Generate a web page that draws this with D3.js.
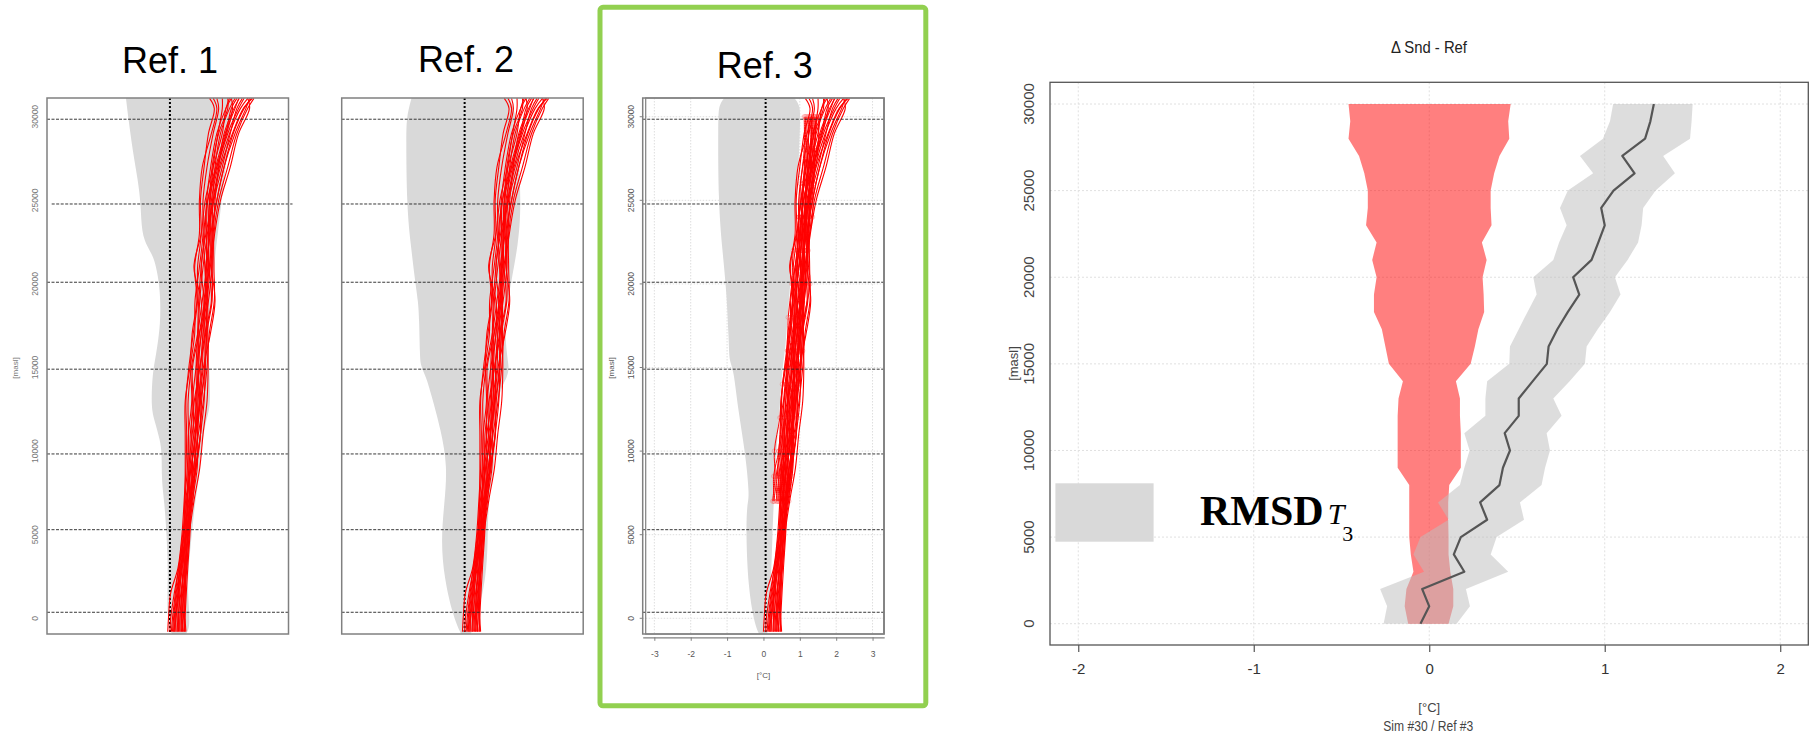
<!DOCTYPE html>
<html>
<head>
<meta charset="utf-8">
<script src="https://cdn.jsdelivr.net/npm/d3@7"></script>
<style>
  body { margin: 0; background: #fff; }
  svg { display: block; font-family: "Liberation Sans", Arial, sans-serif; }
</style>
</head>
<body>
<div id="chart"></div>
<script>
"use strict";

// ---------------- data ----------------
var panelTitles = ["Ref. 1", "Ref. 2", "Ref. 3"];

// simulated profiles, [°C] at each height [masl]
var profileLevels = [-800, 0, 1500, 3000, 5000, 7000, 9000, 11000, 13000, 15000, 17000, 19000, 21000, 23000, 25000, 27000, 29000, 30500, 31100];
var profiles = [
    [0.00, 0.02, 0.08, 0.28, 0.39, 0.45, 0.50, 0.52, 0.50, 0.58, 0.70, 0.82, 0.82, 0.92, 0.90, 1.00, 1.12, 1.28, 1.15],
    [0.10, 0.13, 0.21, 0.30, 0.44, 0.49, 0.64, 0.77, 0.90, 0.91, 0.97, 1.12, 1.22, 1.22, 1.25, 1.42, 1.70, 2.00, 2.20],
    [0.16, 0.18, 0.25, 0.35, 0.49, 0.62, 0.68, 0.66, 0.68, 0.78, 0.92, 0.92, 0.72, 0.92, 1.03, 1.25, 1.50, 1.60, 1.70],
    [0.23, 0.23, 0.31, 0.40, 0.52, 0.65, 0.78, 0.90, 1.00, 1.03, 1.07, 1.05, 1.04, 1.17, 1.20, 1.38, 1.65, 1.95, 2.10],
    [0.28, 0.30, 0.33, 0.37, 0.44, 0.47, 0.54, 0.57, 0.56, 0.65, 0.82, 0.95, 1.07, 1.15, 1.17, 1.25, 1.38, 1.50, 1.50],
    [0.33, 0.33, 0.39, 0.45, 0.57, 0.62, 0.66, 0.76, 0.88, 0.98, 1.17, 1.30, 1.20, 1.19, 1.35, 1.55, 1.80, 2.10, 2.30],
    [0.38, 0.36, 0.38, 0.42, 0.47, 0.52, 0.64, 0.77, 0.80, 0.78, 0.82, 0.85, 0.92, 1.02, 1.07, 1.18, 1.35, 1.60, 1.75],
    [0.43, 0.40, 0.43, 0.48, 0.54, 0.67, 0.81, 0.82, 0.83, 0.95, 0.97, 1.00, 1.10, 1.12, 1.27, 1.50, 1.72, 1.90, 2.05],
    [0.48, 0.46, 0.48, 0.52, 0.59, 0.72, 0.88, 0.97, 1.08, 1.11, 1.10, 1.10, 1.07, 1.07, 1.10, 1.32, 1.58, 1.85, 1.95],
    [0.50, 0.48, 0.51, 0.55, 0.61, 0.65, 0.71, 0.84, 0.98, 1.08, 1.14, 1.28, 1.27, 1.27, 1.40, 1.65, 1.90, 2.20, 2.37],
    [0.13, 0.16, 0.23, 0.34, 0.43, 0.47, 0.48, 0.48, 0.48, 0.61, 0.74, 0.75, 0.87, 0.97, 0.97, 1.08, 1.25, 1.40, 1.35],
    [0.20, 0.22, 0.28, 0.37, 0.49, 0.54, 0.58, 0.67, 0.80, 0.83, 0.87, 1.02, 1.12, 1.12, 1.15, 1.35, 1.60, 1.75, 1.90],
    [0.30, 0.28, 0.29, 0.32, 0.45, 0.57, 0.71, 0.82, 0.86, 0.83, 0.84, 0.88, 0.97, 1.09, 1.23, 1.30, 1.45, 1.70, 1.85],
    [0.36, 0.38, 0.45, 0.50, 0.55, 0.59, 0.61, 0.62, 0.73, 0.88, 1.04, 1.08, 1.02, 0.99, 1.10, 1.35, 1.62, 1.78, 1.75],
    [0.40, 0.43, 0.45, 0.46, 0.49, 0.59, 0.74, 0.72, 0.70, 0.68, 0.87, 1.05, 1.14, 1.25, 1.30, 1.40, 1.55, 1.82, 1.97],
    [0.18, 0.20, 0.28, 0.38, 0.51, 0.62, 0.76, 0.77, 0.76, 0.88, 1.02, 1.20, 1.14, 1.12, 1.15, 1.22, 1.40, 1.65, 1.65],
    [0.46, 0.46, 0.48, 0.50, 0.55, 0.69, 0.76, 0.90, 0.93, 1.03, 1.07, 1.22, 1.22, 1.22, 1.35, 1.55, 1.85, 2.15, 2.25],
    [0.06, 0.08, 0.18, 0.30, 0.41, 0.52, 0.56, 0.57, 0.66, 0.63, 0.67, 0.80, 0.74, 0.87, 0.87, 0.95, 1.20, 1.35, 1.25],
    [0.26, 0.28, 0.36, 0.45, 0.51, 0.55, 0.61, 0.72, 0.90, 1.01, 1.02, 1.00, 0.92, 1.05, 1.25, 1.45, 1.78, 2.08, 2.33],
    [0.42, 0.38, 0.41, 0.52, 0.59, 0.62, 0.78, 0.90, 0.88, 0.85, 0.92, 1.08, 1.17, 1.29, 1.45, 1.72, 1.95, 2.25, 2.20]
];

// extra profiles only shown in Ref. 3 (with markers)
var extraLevels = [7000, 8500, 10000, 12000, 14000, 16000, 18000, 20000, 22000, 24000, 26000, 28000, 30000];
var extraProfiles = [
    [0.25, 0.32, 0.30, 0.45, 0.52, 0.66, 0.68, 0.78, 0.82, 0.98, 1.02, 1.12, 1.12],
    [0.30, 0.28, 0.42, 0.48, 0.62, 0.66, 0.80, 0.80, 0.94, 0.98, 1.10, 1.14, 1.18],
    [0.35, 0.42, 0.44, 0.58, 0.64, 0.78, 0.78, 0.92, 0.93, 1.05, 1.10, 1.22, 1.22],
    [0.40, 0.44, 0.55, 0.58, 0.74, 0.78, 0.90, 0.93, 1.03, 1.05, 1.18, 1.22, 1.28],
    [0.45, 0.52, 0.56, 0.70, 0.75, 0.88, 0.90, 1.03, 1.02, 1.15, 1.18, 1.32, 1.32],
    [0.50, 0.53, 0.65, 0.70, 0.85, 0.87, 1.00, 1.02, 1.13, 1.15, 1.28, 1.30, 1.38],
    [0.55, 0.62, 0.68, 0.80, 0.85, 0.98, 1.00, 1.15, 1.12, 1.25, 1.27, 1.40, 1.42],
    [0.62, 0.66, 0.78, 0.82, 0.95, 0.97, 1.10, 1.15, 1.23, 1.25, 1.38, 1.40, 1.48],
    [0.70, 0.78, 0.80, 0.93, 0.95, 1.08, 1.12, 1.28, 1.20, 1.35, 1.37, 1.50, 1.52],
    [0.38, 0.35, 0.48, 0.58, 0.65, 0.72, 0.85, 0.88, 0.98, 1.05, 1.10, 1.22, 1.25],
    [0.48, 0.42, 0.55, 0.62, 0.75, 0.82, 0.90, 0.98, 1.08, 1.15, 1.18, 1.28, 1.35],
    [0.58, 0.52, 0.65, 0.75, 0.80, 0.92, 0.95, 1.08, 1.12, 1.20, 1.28, 1.35, 1.40],
    [0.28, 0.38, 0.42, 0.52, 0.62, 0.68, 0.75, 0.85, 0.92, 0.98, 1.08, 1.18, 1.15],
    [0.65, 0.72, 0.78, 0.80, 0.90, 0.98, 1.05, 1.15, 1.18, 1.25, 1.32, 1.40, 1.45],
    [0.42, 0.48, 0.60, 0.65, 0.70, 0.78, 0.88, 0.92, 1.02, 1.10, 1.22, 1.30, 1.30]
];

// reference envelopes: [height, low °C, high °C]
var envRef1 = [
    [31120, -1.15, 1.80], [29860, -1.08, 1.75], [28050, -0.97, 1.65], [26210, -0.82, 1.55],
    [24780, -0.74, 1.47], [23050, -0.72, 1.38], [22210, -0.56, 1.33], [21610, -0.39, 1.30],
    [20830, -0.30, 1.28], [19640, -0.21, 1.22], [17660, -0.19, 1.12], [15630, -0.33, 1.12],
    [14670, -0.42, 1.15], [12640, -0.46, 1.18], [11860, -0.37, 1.05], [10670, -0.21, 0.96],
    [9830, -0.16, 0.92], [8270, -0.17, 0.85], [7080, -0.10, 0.76], [5100, -0.03, 0.66],
    [2470, 0.01, 0.55], [1270, -0.02, 0.56], [-520, 0.01, 0.62], [-940, 0.12, 0.50]
];
var envRef2 = [
    [31120, -1.40, 1.30], [30030, -1.53, 1.48], [28970, -1.55, 1.53], [24540, -1.53, 1.62],
    [22330, -1.42, 1.53], [20120, -1.30, 1.34], [18980, -1.22, 1.25], [17910, -1.19, 1.15],
    [15700, -1.17, 1.22], [15100, -1.15, 1.28], [14440, -1.00, 1.25], [13480, -0.87, 0.97],
    [11260, -0.59, 0.93], [9050, -0.41, 0.88], [6840, -0.50, 0.70], [4620, -0.59, 0.70],
    [2410, -0.50, 0.65], [200, -0.27, 0.42], [-940, -0.04, 0.23]
];
var envRef3 = [
    [31120, -1.08, 0.85], [30700, -1.22, 1.00], [29910, -1.25, 1.02], [24790, -1.24, 0.92],
    [22000, -1.13, 0.82], [19710, -1.02, 0.72], [16500, -0.95, 0.62], [15340, -0.94, 0.55],
    [14900, -0.82, 0.52], [12640, -0.71, 0.45], [9950, -0.50, 0.35], [7240, -0.38, 0.30],
    [6900, -0.45, 0.28], [5080, -0.48, 0.25], [1850, -0.42, 0.20], [-310, -0.25, 0.15],
    [-940, -0.12, 0.10]
];
var refEnvelopes = [envRef1, envRef2, envRef3];

// heights of the dashed reference levels
var levelHeights = [29850, 24780, 20100, 14900, 9830, 5300, 360];
var smallYTicks = [0, 5000, 10000, 15000, 20000, 25000, 30000];
var smallXTicks = [-3, -2, -1, 0, 1, 2, 3];

// Δ Snd - Ref panel
var diffLevels = [0, 1000, 2000, 3000, 4000, 5000, 6000, 7000, 8000, 9000, 10000, 11000, 12000, 13000, 14000, 15000,
    16000, 17000, 18000, 19000, 20000, 21000, 22000, 23000, 24000, 25000, 26000, 27000, 28000, 29000, 30000];
var ref3Lo = [-0.12, -0.14, -0.13, -0.09, -0.105, -0.114, -0.114, -0.114, -0.114, -0.18, -0.18, -0.18, -0.18, -0.175, -0.15, -0.23,
    -0.25, -0.27, -0.315, -0.315, -0.30, -0.325, -0.30, -0.36, -0.35, -0.35, -0.37, -0.40, -0.46, -0.45, -0.46];
var ref3Hi = [0.11, 0.137, 0.137, 0.12, 0.11, 0.11, 0.108, 0.108, 0.114, 0.18, 0.18, 0.18, 0.175, 0.175, 0.152, 0.236,
    0.26, 0.28, 0.313, 0.31, 0.304, 0.327, 0.30, 0.355, 0.35, 0.35, 0.37, 0.40, 0.456, 0.45, 0.464];
var meanDiff = [-0.05, 0.00, -0.04, 0.20, 0.14, 0.18, 0.33, 0.29, 0.40, 0.42, 0.46, 0.43, 0.51, 0.51, 0.59, 0.67,
    0.68, 0.73, 0.79, 0.855, 0.82, 0.925, 0.963, 1.00, 0.98, 1.05, 1.17, 1.10, 1.23, 1.26, 1.28];
var rmsdLo = [-0.26, -0.24, -0.28, -0.03, -0.09, -0.05, 0.11, 0.05, 0.175, 0.20, 0.23, 0.20, 0.32, 0.32, 0.33, 0.456,
    0.46, 0.51, 0.56, 0.612, 0.593, 0.707, 0.74, 0.783, 0.745, 0.79, 0.934, 0.859, 0.99, 1.03, 1.048];
var rmsdHi = [0.156, 0.232, 0.209, 0.45, 0.35, 0.384, 0.54, 0.517, 0.64, 0.66, 0.688, 0.669, 0.754, 0.707, 0.80, 0.887,
    0.897, 0.96, 1.03, 1.09, 1.058, 1.13, 1.19, 1.21, 1.219, 1.29, 1.40, 1.333, 1.486, 1.495, 1.501];
var diffXTicks = [-2, -1, 0, 1, 2];
var diffYTicks = [0, 5000, 10000, 15000, 20000, 25000, 30000];

// ---------------- drawing ----------------
var width = 1815, height = 735;

//R prints plain hyphen minus and no decimals
var tickFmt = function(d) { return d < 0 ? "-" + Math.abs(d) : String(d); };

var svg = d3.select("#chart").append("svg")
    .attr("width", width)
    .attr("height", height);

var panelLeft = [47, 341.7, 642.7];
var panelTitleX = [170, 466, 764.7];
var panelTitleY = [73.3, 71.7, 78.3];

//green frame round Ref. 3
svg.append("rect")
    .attr("x", 600).attr("y", 7.3)
    .attr("width", 325.8).attr("height", 698.5)
    .attr("rx", 3)
    .attr("fill", "none")
    .attr("stroke", "#92d050")
    .attr("stroke-width", 5);

function drawPanel(idx) {
    var left = panelLeft[idx], right = left + 241.5, top = 98, bottom = 634;
    var x = d3.scaleLinear().domain([-3.32, 3.32]).range([left, right]);
    var y = d3.scaleLinear().domain([-940, 31120]).range([bottom, top]);
    var isRef3 = (idx === 2);

    var g = svg.append("g").attr("class", "panel");

    svg.append("clipPath").attr("id", "clip" + idx)
        .append("rect")
        .attr("x", left).attr("y", top)
        .attr("width", right - left).attr("height", bottom - top);

    var inner = g.append("g").attr("clip-path", "url(#clip" + idx + ")");

    //light grid only on Ref. 3
    if (isRef3) {
        inner.selectAll(".gx").data(smallXTicks).enter().append("line")
            .attr("x1", function(d) { return x(d); })
            .attr("x2", function(d) { return x(d); })
            .attr("y1", top).attr("y2", bottom)
            .attr("stroke", "#dedede").attr("stroke-dasharray", "1.5,1.5");
        inner.selectAll(".gy").data(smallYTicks).enter().append("line")
            .attr("x1", left).attr("x2", right)
            .attr("y1", function(d) { return y(d); })
            .attr("y2", function(d) { return y(d); })
            .attr("stroke", "#dedede").attr("stroke-dasharray", "1.5,1.5");
    }

    //grey reference envelope
    inner.append("path")
        .datum(refEnvelopes[idx])
        .attr("fill", "#d9d9d9")
        .attr("d", d3.area()
            .curve(d3.curveBasis)
            .y(function(d) { return y(d[0]); })
            .x0(function(d) { return x(d[1]); })
            .x1(function(d) { return x(d[2]); }));

    //dashed level lines
    g.selectAll(".lvl").data(levelHeights).enter().append("line")
        .attr("x1", function(d) { return (idx === 0 && d === 24780) ? left + 4.7 : left; })
        .attr("x2", function(d) { return (idx === 0 && d === 24780) ? right + 4 : right; })
        .attr("y1", function(d) { return y(d); })
        .attr("y2", function(d) { return y(d); })
        .attr("stroke", "#222")
        .attr("stroke-width", 0.9)
        .attr("stroke-dasharray", "3,1.5");

    //zero line
    inner.append("line")
        .attr("x1", x(0.06)).attr("x2", x(0.06))
        .attr("y1", top).attr("y2", bottom)
        .attr("stroke", "#000")
        .attr("stroke-width", 2)
        .attr("stroke-dasharray", "2,2");

    var line = d3.line()
        .curve(d3.curveCatmullRom)
        .x(function(d) { return x(d[1]); })
        .y(function(d) { return y(d[0]); });

    //extra runs with markers (Ref. 3 only)
    if (isRef3) {
        extraProfiles.forEach(function(p) {
            var pts = p.map(function(v, i) { return [extraLevels[i], v]; });
            inner.append("path").datum(pts)
                .attr("d", line)
                .attr("fill", "none")
                .attr("stroke", "#ff0000")
                .attr("stroke-width", 1);
            inner.selectAll(null).data(pts).enter().append("circle")
                .attr("cx", function(d) { return x(d[1]); })
                .attr("cy", function(d) { return y(d[0]); })
                .attr("r", 2.2)
                .attr("fill", "none")
                .attr("stroke", "rgba(255,60,60,0.35)")
                .attr("stroke-width", 0.8);
        });
    }

    //simulated profiles
    profiles.forEach(function(p) {
        var pts = p.map(function(v, i) { return [profileLevels[i], v]; });
        inner.append("path").datum(pts)
            .attr("d", line)
            .attr("fill", "none")
            .attr("stroke", "#ff0000")
            .attr("stroke-width", 1.1);
    });

    //box
    g.append("rect")
        .attr("x", left).attr("y", top)
        .attr("width", right - left).attr("height", bottom - top)
        .attr("fill", "none")
        .attr("stroke", "#808080")
        .attr("stroke-width", 1.5);
    if (isRef3) {
        g.append("rect")
            .attr("x", left + 3).attr("y", top)
            .attr("width", right - left - 3.5).attr("height", bottom - top)
            .attr("fill", "none")
            .attr("stroke", "#808080")
            .attr("stroke-width", 1.2);
    }

    //y labels (Ref. 1 and Ref. 3)
    if (idx !== 1) {
        g.selectAll(".yl").data(smallYTicks).enter().append("text")
            .attr("transform", function(d) { return "translate(" + (left - 12) + "," + y(d) + ") rotate(-90)"; })
            .attr("text-anchor", "middle")
            .attr("dy", "0.35em")
            .attr("font-size", 8.5)
            .attr("fill", isRef3 ? "#555" : "#777")
            .text(function(d) { return d; });
        g.append("text")
            .attr("transform", "translate(" + (left - 32) + ",368) rotate(-90)")
            .attr("text-anchor", "middle")
            .attr("dy", "0.35em")
            .attr("font-size", 8)
            .attr("fill", isRef3 ? "#555" : "#777")
            .text("[masl]");
    }

    if (isRef3) {
        //y ticks
        g.selectAll(".yt").data(smallYTicks).enter().append("line")
            .attr("x1", left - 3).attr("x2", left)
            .attr("y1", function(d) { return y(d); })
            .attr("y2", function(d) { return y(d); })
            .attr("stroke", "#808080");

        //x axis
        var xAxis = g.append("g")
            .attr("transform", "translate(0," + (bottom + 3.3) + ")")
            .call(d3.axisBottom(x).tickValues(smallXTicks).tickFormat(tickFmt)
                .tickSize(3.5).tickPadding(10).tickSizeOuter(0));
        xAxis.select(".domain").attr("stroke", "#808080").attr("stroke-width", 1.3);
        xAxis.selectAll(".tick line").attr("stroke", "#808080");
        xAxis.selectAll(".tick text")
            .attr("font-family", "Liberation Sans, Arial, sans-serif")
            .attr("font-size", 8.5)
            .attr("fill", "#555");

        g.append("text")
            .attr("x", x(0)).attr("y", 677.5)
            .attr("text-anchor", "middle")
            .attr("font-size", 8)
            .attr("fill", "#555")
            .text("[°C]");
    }

    //panel title
    g.append("text")
        .attr("x", panelTitleX[idx]).attr("y", panelTitleY[idx])
        .attr("text-anchor", "middle")
        .attr("font-size", 36)
        .attr("fill", "#000")
        .text(panelTitles[idx]);
}

[0, 1, 2].forEach(drawPanel);

// ---------------- Δ Snd - Ref ----------------
(function() {
    var left = 1050, right = 1808.3, top = 82.3, bottom = 645;
    var x = d3.scaleLinear().domain([-2.161, 2.16]).range([left, right]);
    var y = d3.scaleLinear().domain([-1230, 31253]).range([bottom, top]);
    var g = svg.append("g").attr("class", "diff");

    //grid
    g.selectAll(".gx").data(diffXTicks).enter().append("line")
        .attr("x1", function(d) { return x(d); })
        .attr("x2", function(d) { return x(d); })
        .attr("y1", top).attr("y2", bottom)
        .attr("stroke", "#e0e0e0").attr("stroke-dasharray", "2,2");
    g.selectAll(".gy").data(diffYTicks).enter().append("line")
        .attr("x1", left).attr("x2", right)
        .attr("y1", function(d) { return y(d); })
        .attr("y2", function(d) { return y(d); })
        .attr("stroke", "#e0e0e0").attr("stroke-dasharray", "2,2");

    var rows = diffLevels.map(function(h, i) {
        return { h: h, lo: ref3Lo[i], hi: ref3Hi[i], m: meanDiff[i], rlo: rmsdLo[i], rhi: rmsdHi[i] };
    });

    //reference spread (red)
    g.append("path").datum(rows)
        .attr("fill", "rgba(255,0,0,0.5)")
        .attr("d", d3.area()
            .y(function(d) { return y(d.h); })
            .x0(function(d) { return x(d.lo); })
            .x1(function(d) { return x(d.hi); }));

    //RMSD band (grey)
    g.append("path").datum(rows)
        .attr("fill", "rgba(190,190,190,0.52)")
        .attr("d", d3.area()
            .y(function(d) { return y(d.h); })
            .x0(function(d) { return x(d.rlo); })
            .x1(function(d) { return x(d.rhi); }));

    //mean difference line
    g.append("path").datum(rows)
        .attr("fill", "none")
        .attr("stroke", "#555")
        .attr("stroke-width", 2.2)
        .attr("stroke-linejoin", "round")
        .attr("d", d3.line()
            .x(function(d) { return x(d.m); })
            .y(function(d) { return y(d.h); }));

    //box
    g.append("rect")
        .attr("x", left).attr("y", top)
        .attr("width", right - left).attr("height", bottom - top)
        .attr("fill", "none")
        .attr("stroke", "#555")
        .attr("stroke-width", 1.3);

    //x axis
    var xAxis = g.append("g")
        .attr("transform", "translate(0," + bottom + ")")
        .call(d3.axisBottom(x).tickValues(diffXTicks).tickFormat(tickFmt)
            .tickSize(7).tickPadding(11).tickSizeOuter(0));
    xAxis.select(".domain").remove();
    xAxis.selectAll(".tick line").attr("stroke", "#555").attr("stroke-width", 1.2);
    xAxis.selectAll(".tick text")
        .attr("font-family", "Liberation Sans, Arial, sans-serif")
        .attr("font-size", 15)
        .attr("fill", "#333");

    //y labels
    g.selectAll(".yl").data(diffYTicks).enter().append("text")
        .attr("transform", function(d) { return "translate(1028.3," + y(d) + ") rotate(-90)"; })
        .attr("text-anchor", "middle")
        .attr("dy", "0.35em")
        .attr("font-size", 15)
        .attr("fill", "#444")
        .text(function(d) { return d; });

    g.append("text")
        .attr("transform", "translate(1013,363.5) rotate(-90)")
        .attr("text-anchor", "middle")
        .attr("dy", "0.35em")
        .attr("font-size", 13)
        .attr("fill", "#444")
        .text("[masl]");

    //title and x titles
    g.append("text")
        .attr("x", 1429).attr("y", 53.3)
        .attr("text-anchor", "middle")
        .attr("font-size", 17)
        .attr("textLength", 76)
        .attr("lengthAdjust", "spacingAndGlyphs")
        .attr("fill", "#222")
        .text("Δ Snd - Ref");

    g.append("text")
        .attr("x", x(0)).attr("y", 712)
        .attr("text-anchor", "middle")
        .attr("font-size", 13)
        .attr("fill", "#444")
        .text("[°C]");

    g.append("text")
        .attr("x", 1428.3).attr("y", 731)
        .attr("text-anchor", "middle")
        .attr("font-size", 15)
        .attr("textLength", 90)
        .attr("lengthAdjust", "spacingAndGlyphs")
        .attr("fill", "#444")
        .text("Sim #30 / Ref #3");

    //RMSD legend
    g.append("rect")
        .attr("x", 1055.4).attr("y", 483.3)
        .attr("width", 98.2).attr("height", 58.4)
        .attr("fill", "#d9d9d9");

    var leg = g.append("text")
        .attr("x", 1200).attr("y", 525)
        .attr("font-family", "Liberation Serif, DejaVu Serif, serif")
        .attr("fill", "#000");
    leg.append("tspan")
        .attr("font-size", 42)
        .attr("font-weight", "bold")
        .text("RMSD");
    leg.append("tspan")
        .attr("dx", 4)
        .attr("dy", -1)
        .attr("font-style", "italic")
        .attr("font-size", 30)
        .text("T");
    leg.append("tspan")
        .attr("dx", -2)
        .attr("dy", 16.5)
        .attr("font-size", 22)
        .text("3");
})();
</script>
</body>
</html>
